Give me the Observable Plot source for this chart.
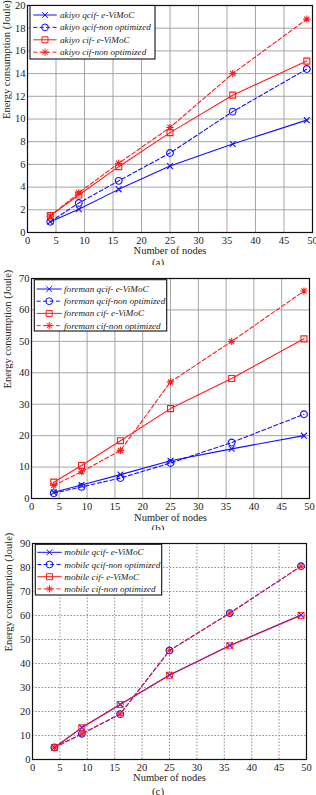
<!DOCTYPE html>
<html><head><meta charset="utf-8">
<script src="https://cdn.jsdelivr.net/npm/d3@7"></script>
<script src="https://cdn.jsdelivr.net/npm/@observablehq/plot@0.6"></script>
<style>
body{margin:0;background:#fff;}
#wrap{position:relative;width:316px;height:795px;overflow:hidden;font-family:"Liberation Serif",serif;background:#fff;}
.panel{position:absolute;left:0;width:316px;}
.cap{position:absolute;left:0;width:316px;text-align:center;font-size:11px;color:#222;line-height:11px;}
</style></head><body><div id="wrap"></div>
<script>
// ---------------- data ----------------
const nodes = [4, 9, 16, 25, 36, 49];
const xTicks = [0, 5, 10, 15, 20, 25, 30, 35, 40, 45, 50];
const seriesNames = ["qcif- e-ViMoC", "qcif-non optimized", "cif- e-ViMoC", "cif-non optimized"];

const akiyoQcifE = [0.95, 2.05, 3.8, 5.85, 7.8, 9.9];
const akiyoQcifN = [0.95, 2.6, 4.55, 7.0, 10.65, 14.4];
const akiyoCifE  = [1.5, 3.3, 5.8, 8.8, 12.1, 15.1];
const akiyoCifN  = [1.45, 3.5, 6.1, 9.25, 14.0, 18.8];
const akiyoYTicks = [0, 2, 4, 6, 8, 10, 12, 14, 16, 18, 20];

const foremanQcifE = [2.0, 4.3, 7.6, 12.0, 15.8, 20.0];
const foremanQcifN = [1.7, 3.7, 6.5, 11.3, 17.8, 26.8];
const foremanCifE  = [5.2, 10.5, 18.4, 28.6, 38.2, 50.8];
const foremanCifN  = [4.2, 8.5, 15.3, 37.1, 50.0, 66.0];
const foremanYTicks = [0, 10, 20, 30, 40, 50, 60, 70];

const mobileQcifE = [5.0, 13.3, 22.9, 35.2, 47.5, 60.2];
const mobileQcifN = [5.0, 10.7, 18.9, 45.4, 61.0, 80.5];
const mobileCifE  = [5.0, 13.2, 22.9, 35.1, 47.4, 60.0];
const mobileCifN  = [5.0, 10.7, 19.0, 45.4, 61.0, 80.5];
const mobileYTicks = [0, 10, 20, 30, 40, 50, 60, 70, 80, 90];

const xLabel = "Number of nodes";
const yLabel = "Energy consumption (Joule)";

// ---------------- symbols ----------------
const symTimes = {draw(c, s){const r=Math.sqrt(s/Math.PI)*0.85; c.moveTo(-r,-r);c.lineTo(r,r);c.moveTo(-r,r);c.lineTo(r,-r);}};
const symAst = {draw(c, s){const r=Math.sqrt(s/Math.PI); const a=r*0.72; c.moveTo(0,-r);c.lineTo(0,r);c.moveTo(-r,0);c.lineTo(r,0);c.moveTo(-a,-a);c.lineTo(a,a);c.moveTo(-a,a);c.lineTo(a,-a);}};
const symSquare = {draw(c, s){const r=Math.sqrt(s/Math.PI)*0.88; c.rect(-r,-r,2*r,2*r);}};
const symCircle = {draw(c, s){const r=Math.sqrt(s/Math.PI); c.moveTo(r,0); c.arc(0,0,r,0,2*Math.PI);}};

const BLUE = "#1010ff", RED = "#ff1a1a";
const styles = [
  {stroke: BLUE, dash: null, symbol: symTimes, r: 3.4},
  {stroke: BLUE, dash: "4,2.4", symbol: symCircle, r: 3.4},
  {stroke: RED, dash: null, symbol: symSquare, r: 3.4},
  {stroke: RED, dash: "4,2.4", symbol: symAst, r: 3.6}
];

function legendMark(labels, cfg) {
  return (index, scales, values, dims) => {
    const g = d3.create("svg:g");
    const x0 = dims.marginLeft + cfg.dx, y0 = dims.marginTop + cfg.dy;
    g.append("rect").attr("x", x0).attr("y", y0).attr("width", cfg.w).attr("height", cfg.h)
      .attr("fill", "white").attr("stroke", "#111").attr("stroke-width", 1.1);
    labels.forEach((lab, i) => {
      const st = styles[i];
      const cy = y0 + cfg.first + i * cfg.step;
      g.append("line").attr("x1", x0 + cfg.l1).attr("x2", x0 + cfg.l2).attr("y1", cy).attr("y2", cy)
        .attr("stroke", st.stroke).attr("stroke-width", 1).attr("stroke-dasharray", st.dash);
      g.append("path").attr("d", d3.symbol(st.symbol, Math.PI * st.r * st.r)())
        .attr("transform", `translate(${x0 + (cfg.l1 + cfg.l2) / 2},${cy})`)
        .attr("fill", "none").attr("stroke", st.stroke).attr("stroke-width", 1);
      g.append("text").attr("x", x0 + cfg.tx).attr("y", cy).attr("dy", "0.33em")
        .attr("text-anchor", "start")
        .attr("font-style", "italic").attr("font-size", 9.2).attr("fill", "#222").text(lab);
    });
    return g.node();
  };
}

function panel(video, seriesVals, yTicks, lay) {
  const data = [];
  seriesVals.forEach((vals, si) => vals.forEach((v, i) => data.push({s: si, x: nodes[i], y: v})));
  const marks = [
    Plot.gridX(xTicks, {stroke: lay.gridColor, strokeOpacity: 1, strokeWidth: 0.9, strokeDasharray: lay.gridDash}),
    Plot.gridY(yTicks, {stroke: lay.gridColor, strokeOpacity: 1, strokeWidth: 0.9, strokeDasharray: lay.gridDash}),
    Plot.axisX(xTicks, {tickSize: 0, tickPadding: 4, label: null, fill: "#222"}),
    Plot.axisY(yTicks, {tickSize: 0, tickPadding: 2, label: null, fill: "#222"}),
    Plot.text([xLabel], {frameAnchor: "bottom", dy: lay.xLabDy, lineAnchor: "middle", fontSize: 10.5, fill: "#222"}),
    Plot.text([yLabel], {frameAnchor: "left", dx: lay.yLabDx, rotate: -90, lineAnchor: "middle", fontSize: 10.5, fill: "#222"})
  ];
  for (let si = 0; si < 4; si++) {
    const st = styles[si];
    const d = data.filter(e => e.s === si);
    const op = si >= 2 ? lay.redOpacity : 1;
    marks.push(Plot.line(d, {x: "x", y: "y", stroke: st.stroke, strokeWidth: 1.1, strokeDasharray: st.dash, strokeOpacity: op}));
    marks.push(Plot.dot(d, {x: "x", y: "y", symbol: st.symbol, r: st.r, stroke: st.stroke, fill: "none", strokeWidth: 1.1, strokeOpacity: op}));
  }
  marks.push(Plot.frame({stroke: "#111", strokeWidth: 1.2}));
  marks.push(legendMark(seriesNames.map(n => `${video} ${n}`), lay.legend));
  return Plot.plot({
    width: 316, height: 265,
    marginLeft: lay.ml, marginRight: lay.mr, marginTop: lay.mt, marginBottom: lay.mb,
    x: {domain: [0, 50]},
    y: {domain: [yTicks[0], yTicks[yTicks.length - 1]]},
    style: {fontFamily: "Liberation Serif", fontSize: "10.5px", color: "#222", background: "white", overflow: "visible"},
    marks
  });
}

const wrap = document.getElementById("wrap");
const panels = [
  {video: "akiyo", vals: [akiyoQcifE, akiyoQcifN, akiyoCifE, akiyoCifN], ticks: akiyoYTicks, top: 0, cap: "(a)", capY: 257,
   lay: {ml: 27, mr: 4, mt: 5, mb: 33, xLabDy: 18.5, yLabDx: -21, gridColor: "#9c9c9c", gridDash: null, redOpacity: 1,
         legend: {dx: 3, dy: 0.5, w: 125, h: 53.5, first: 9.5, step: 12.4, l1: 3.3, l2: 26.7, tx: 30}}},
  {video: "foreman", vals: [foremanQcifE, foremanQcifN, foremanCifE, foremanCifN], ticks: foremanYTicks, top: 265, cap: "(b)", capY: 523,
   lay: {ml: 31, mr: 7, mt: 13, mb: 32, xLabDy: 19, yLabDx: -24, gridColor: "#9c9c9c", gridDash: null, redOpacity: 1,
         legend: {dx: 3.3, dy: 1.7, w: 132.4, h: 51.3, first: 9.3, step: 12.2, l1: 2.4, l2: 27.4, tx: 29.7}}},
  {video: "mobile", vals: [mobileQcifE, mobileQcifN, mobileCifE, mobileCifN], ticks: mobileYTicks, top: 530, cap: "(c)", capY: 786,
   lay: {ml: 32, mr: 10, mt: 13, mb: 36, xLabDy: 18, yLabDx: -24, gridColor: "#8a8a8a", gridDash: "1.6,1.6", redOpacity: 0.85,
         legend: {dx: 3.3, dy: 1.3, w: 126.4, h: 50.7, first: 8, step: 12.2, l1: 2, l2: 26.4, tx: 29}}}
];
for (const p of panels) {
  const div = document.createElement("div");
  div.className = "panel";
  div.style.top = p.top + "px";
  div.appendChild(panel(p.video, p.vals, p.ticks, p.lay));
  wrap.appendChild(div);
  const cap = document.createElement("div");
  cap.className = "cap";
  cap.style.top = p.capY + "px";
  cap.textContent = p.cap;
  wrap.appendChild(cap);
}
</script></body></html>
